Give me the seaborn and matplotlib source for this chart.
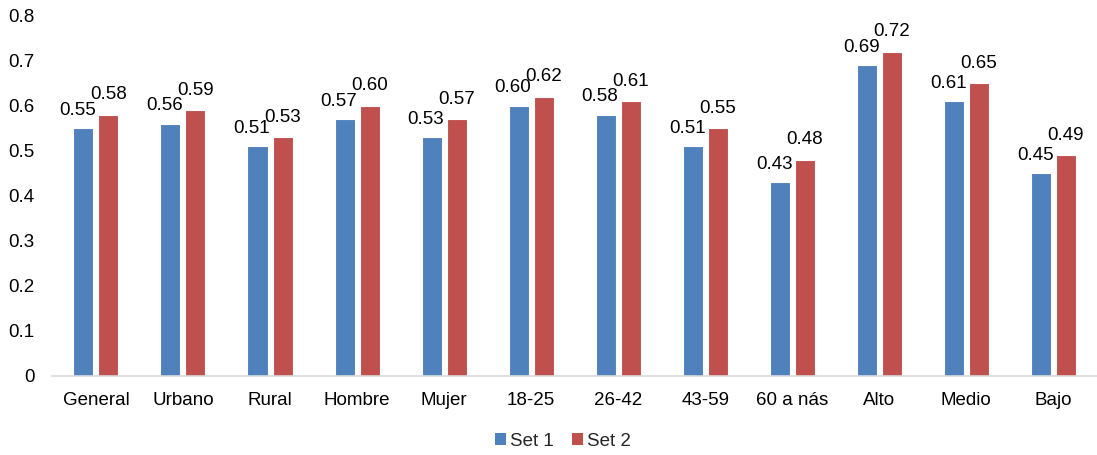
import matplotlib
matplotlib.use("Agg")
import matplotlib.pyplot as plt
import seaborn as sns
import pandas as pd
from matplotlib.patches import Patch

categories = ["General", "Urbano", "Rural", "Hombre", "Mujer", "18-25",
              "26-42", "43-59", "60 a nás", "Alto", "Medio", "Bajo"]
set1 = [0.55, 0.56, 0.51, 0.57, 0.53, 0.60, 0.58, 0.51, 0.43, 0.69, 0.61, 0.45]
set2 = [0.58, 0.59, 0.53, 0.60, 0.57, 0.62, 0.61, 0.55, 0.48, 0.72, 0.65, 0.49]
series_names = ["Set 1", "Set 2"]
colors = ["#4F81BD", "#C0504D"]

df = pd.DataFrame({
    "categoria": categories * 2,
    "valor": set1 + set2,
    "serie": [series_names[0]] * len(categories) + [series_names[1]] * len(categories),
})

sns.set_theme(style="white")
plt.rcParams["font.family"] = ["Liberation Sans", "DejaVu Sans"]
FS = 13.5

fig = plt.figure(figsize=(10.97, 4.55), dpi=100)
ax = fig.add_axes([0.0478, 0.174, 0.952, 0.791])

sns.barplot(data=df, x="categoria", y="valor", hue="serie", order=categories,
            hue_order=series_names, palette=colors, width=0.575, gap=0.2,
            edgecolor="white", linewidth=0.8, saturation=1, legend=False, ax=ax)

# value labels above each bar (first series nudged left to keep pairs readable)
for container, (dx, dy) in zip(ax.containers, [(-4.0, 7.0), (0.0, 8.5)]):
    for bar in container:
        h = bar.get_height()
        ax.annotate(f"{h:.2f}", (bar.get_x() + bar.get_width() / 2, h),
                    xytext=(dx, dy), textcoords="offset points",
                    ha="center", va="bottom", fontsize=FS, color="#000000")

ax.set_ylim(0, 0.8)
ax.set_xlim(-0.5, len(categories) - 0.5)
ax.set_yticks([i / 10 for i in range(9)])
ax.set_yticklabels(["0"] + [f"{i / 10:.1f}" for i in range(1, 9)])
ax.set_xlabel("")
ax.set_ylabel("")
ax.tick_params(axis="both", length=0, labelsize=FS, colors="#000000")
ax.tick_params(axis="y", pad=13)
ax.tick_params(axis="x", pad=12)

for side in ["top", "right", "left"]:
    ax.spines[side].set_visible(False)
ax.spines["bottom"].set_color("#D9D9D9")
ax.spines["bottom"].set_linewidth(1.2)
ax.grid(False)

handles = [Patch(facecolor=c, edgecolor="none") for c in colors]
fig.legend(handles, series_names, loc="lower center", bbox_to_anchor=(0.513, -0.025),
           ncol=2, frameon=False, fontsize=FS, handlelength=0.6, handleheight=0.6,
           handletextpad=0.2, columnspacing=1.0)

fig.savefig("out.png", dpi=100)
